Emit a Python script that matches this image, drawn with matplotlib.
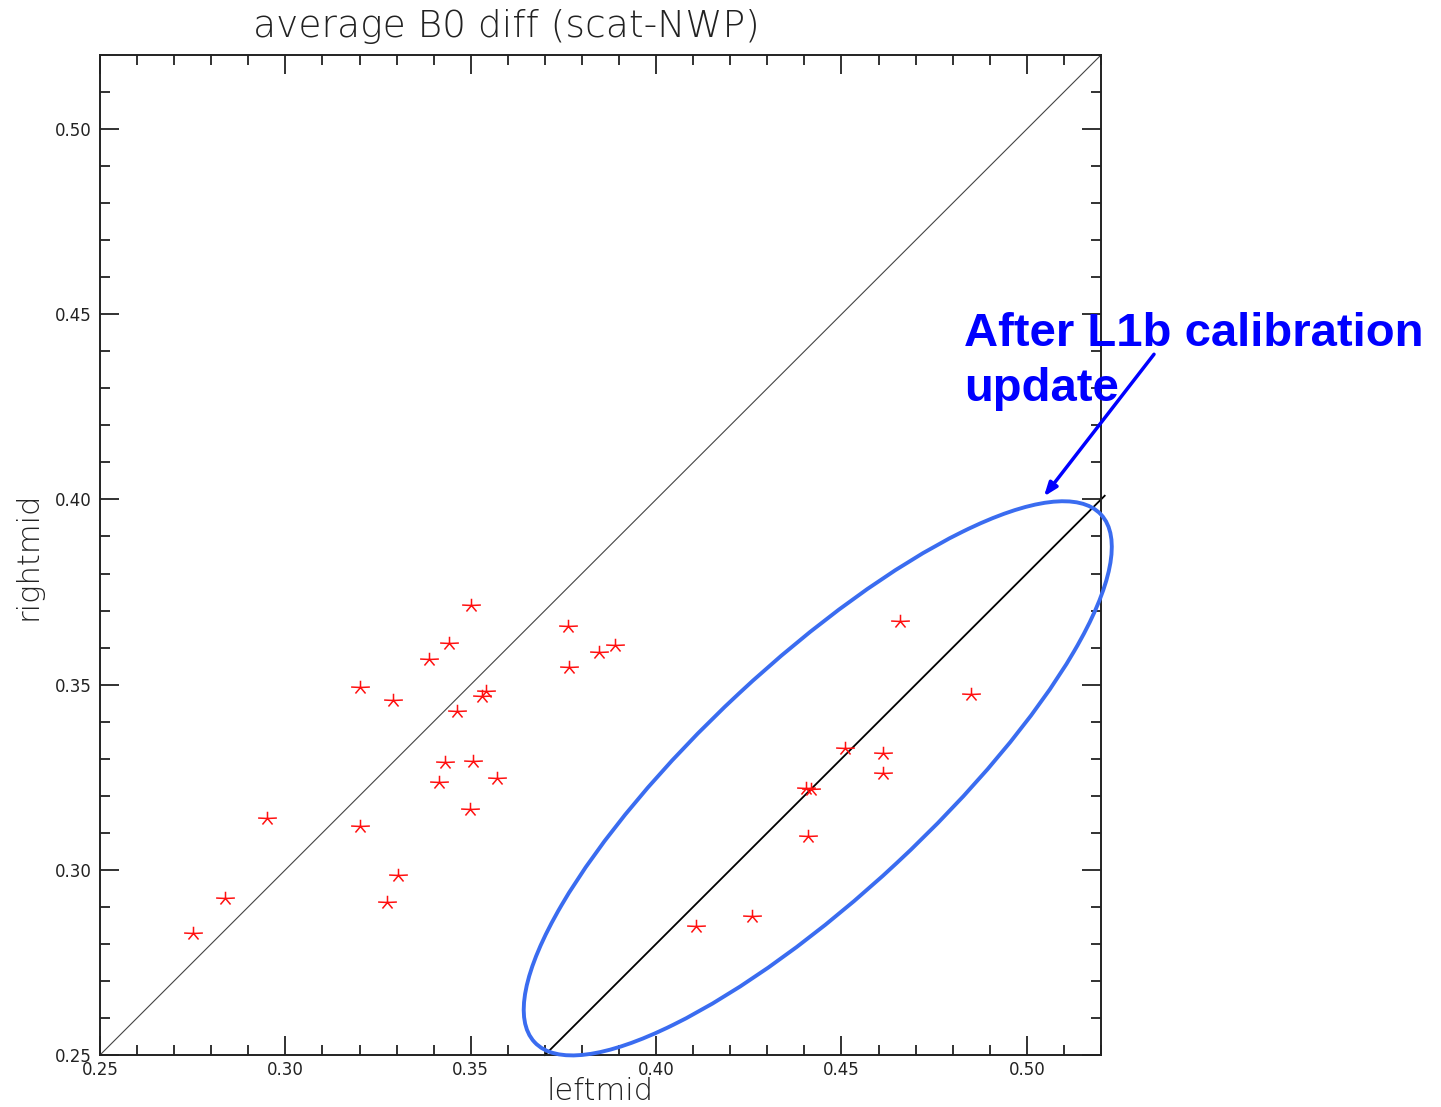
import numpy as np
import matplotlib
matplotlib.use("Agg")
import matplotlib.pyplot as plt
from matplotlib.path import Path
from matplotlib.patches import Ellipse

# ---- data ----
title = "average B0 diff (scat-NWP)"
xlabel = "leftmid"
ylabel = "rightmid"
note_lines = ["After L1b calibration", "update"]

before_x = [0.2751, 0.2838, 0.2951, 0.3200, 0.3200, 0.3290, 0.3275, 0.3303, 0.3387,
            0.3441, 0.3500, 0.3464, 0.3540, 0.3530, 0.3431, 0.3505, 0.3570, 0.3414,
            0.3498, 0.3763, 0.3766, 0.3845, 0.3889]
before_y = [0.2830, 0.2924, 0.3140, 0.3493, 0.3117, 0.3458, 0.2913, 0.2986, 0.3568,
            0.3613, 0.3716, 0.3428, 0.3484, 0.3468, 0.3290, 0.3293, 0.3248, 0.3237,
            0.3164, 0.3658, 0.3548, 0.3587, 0.3606]

after_x = [0.4658, 0.4850, 0.4509, 0.4613, 0.4613, 0.4417, 0.4405, 0.4410, 0.4259, 0.4108]
after_y = [0.3671, 0.3475, 0.3329, 0.3315, 0.3261, 0.3218, 0.3222, 0.3090, 0.2874, 0.2847]

one_to_one = [0.25, 0.52]
offset_x = [0.3700, 0.5210]
offset = 0.12

xlim = (0.25, 0.52)
ylim = (0.25, 0.52)
major_ticks = [0.25, 0.30, 0.35, 0.40, 0.45, 0.50]
tick_labels = ["0.25", "0.30", "0.35", "0.40", "0.45", "0.50"]

ellipse_center = (0.4436, 0.3247)
ellipse_w, ellipse_h, ellipse_angle = 0.2089, 0.0625, 43.0

arrow_tail = (0.5343, 0.4392)
arrow_head = (0.5046, 0.4008)
note_pos = [(0.4830, 0.4414), (0.4830, 0.4265)]

# ---- figure ----
W, H, DPI = 1441, 1107, 100
fig = plt.figure(figsize=(W / DPI, H / DPI), dpi=DPI)
ax = fig.add_axes([100 / W, 52 / H, 1001 / W, 1000 / H])

# asterisk marker (IDL psym=2 look)
verts = [(0, 0), (-1, 0.05), (0, 0), (1, 0.05), (0, 0), (0, 0.72),
         (0, 0), (-0.54, -0.64), (0, 0), (0.54, -0.64)]
codes = [Path.MOVETO, Path.LINETO] * 5
star = Path(verts, codes)

ax.plot(one_to_one, one_to_one, color="#444444", lw=0.8, zorder=2)
ox = np.array(offset_x)
ax.plot(ox, ox - offset, color="black", lw=1.3, clip_on=False, zorder=2)

for xs, ys in [(before_x, before_y), (after_x, after_y)]:
    ax.plot(xs, ys, linestyle="none", marker=star, markersize=13.5,
            markeredgecolor="#ff1010", markerfacecolor="none", markeredgewidth=1.1,
            zorder=3)

ell = Ellipse(ellipse_center, ellipse_w, ellipse_h, angle=ellipse_angle,
              fill=False, edgecolor="#3a6cf0", lw=2.8, clip_on=False, zorder=4)
ax.add_patch(ell)

ax.annotate("", xy=arrow_head, xytext=arrow_tail, xycoords="data",
            annotation_clip=False,
            arrowprops=dict(arrowstyle="-|>,head_length=0.8,head_width=0.3",
                            color="#0000ff", lw=2.5, shrinkA=0, shrinkB=0),
            zorder=5)
for txt, pos in zip(note_lines, note_pos):
    ax.text(pos[0], pos[1], txt, ha="left", va="baseline",
            fontfamily="Liberation Sans", fontweight="bold", fontsize=34,
            color="#0000ff", clip_on=False, zorder=6)

ax.set_xlim(*xlim)
ax.set_ylim(*ylim)
ax.set_xticks(major_ticks)
ax.set_xticklabels(tick_labels)
ax.set_yticks(major_ticks)
ax.set_yticklabels(tick_labels)
ax.set_xticks(np.arange(0.25, 0.5201, 0.01), minor=True)
ax.set_yticks(np.arange(0.25, 0.5201, 0.01), minor=True)
ax.tick_params(which="both", direction="in", top=True, right=True,
               color="#222222", labelcolor="#222222", labelsize=12)
ax.tick_params(which="major", length=14, width=1.3)
ax.tick_params(which="minor", length=7.5, width=1.3)
ax.tick_params(axis="y", pad=6)
ax.tick_params(axis="x", pad=4)
for s in ax.spines.values():
    s.set_linewidth(1.4)
    s.set_color("#222222")

fig.text(506 / W, 1 - 37 / H, title, ha="center", va="baseline",
         fontsize=27, fontweight="light", color="#222222")
fig.text(600 / W, 1 - 1100 / H, xlabel, ha="center", va="baseline",
         fontsize=22, fontweight="light", color="#222222")
fig.text(28 / W, 1 - 556 / H, ylabel, ha="center", va="center", rotation=90,
         fontsize=22, fontweight="light", color="#222222")

fig.savefig("out.png", dpi=DPI)
